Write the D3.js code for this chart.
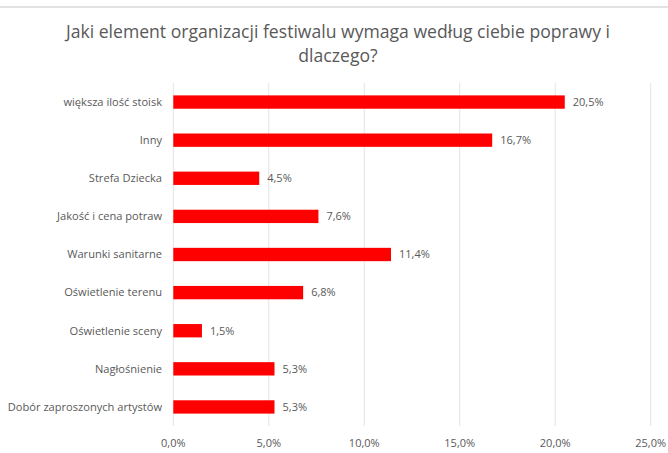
<!DOCTYPE html>
<html>
<head>
<meta charset="utf-8">
<script src="https://cdn.jsdelivr.net/npm/d3@7"></script>
<style>
    body { margin: 0; background: #fff; }
    svg text { font-family: 'Open Sans', 'DejaVu Sans', sans-serif; fill: #595959; }
</style>
</head>
<body>
<svg id="chart" width="668" height="453"></svg>
<script>
const categories = [
    'większa ilość stoisk',
    'Inny',
    'Strefa Dziecka',
    'Jakość i cena potraw',
    'Warunki sanitarne',
    'Oświetlenie terenu',
    'Oświetlenie sceny',
    'Nagłośnienie',
    'Dobór zaproszonych artystów'
]
const values = [20.5, 16.7, 4.5, 7.6, 11.4, 6.8, 1.5, 5.3, 5.3]
const xTicks = [0, 5, 10, 15, 20, 25]
const titleLines = ['Jaki element organizacji festiwalu wymaga według ciebie poprawy i', 'dlaczego?']

const svg = d3.select('#chart')
const fmt = v => v.toFixed(1).replace('.', ',') + '%'

// light frame line at top of the screenshot
svg.append('line')
    .attr('x1', 0).attr('x2', 668)
    .attr('y1', 7).attr('y2', 7)
    .attr('stroke', '#d9d9d9').attr('stroke-width', 1.5)

svg.append('g').selectAll('text')
    .data(titleLines)
    .join('text')
    .attr('x', 338)
    .attr('y', (d, i) => 38 + i * 24)
    .attr('text-anchor', 'middle')
    .style('font-size', '17.6px')
    .text(d => d)

const x = d3.scaleLinear().domain([0, 25]).range([173.3, 650.7])
const y = d3.scaleBand().domain(categories).range([83, 426]).paddingInner(0.65).paddingOuter(0.325)

// gridlines
svg.append('g').selectAll('line')
    .data(xTicks)
    .join('line')
    .attr('x1', d => x(d)).attr('x2', d => x(d))
    .attr('y1', 83).attr('y2', 426)
    .attr('stroke', '#e3e3e3').attr('stroke-width', 1)

// tick labels
svg.append('g').selectAll('text')
    .data(xTicks)
    .join('text')
    .attr('x', d => x(d))
    .attr('y', 447)
    .attr('text-anchor', 'middle')
    .style('font-size', '11px')
    .text(d => fmt(d))

// category labels
svg.append('g').selectAll('text')
    .data(categories)
    .join('text')
    .attr('x', 162)
    .attr('y', d => y(d) + y.bandwidth() / 2)
    .attr('dy', '0.35em')
    .attr('text-anchor', 'end')
    .style('font-size', '11.1px')
    .text(d => d)

// bars
svg.append('g').selectAll('rect')
    .data(values)
    .join('rect')
    .attr('x', x(0))
    .attr('y', (d, i) => y(categories[i]))
    .attr('width', d => x(d) - x(0))
    .attr('height', y.bandwidth())
    .attr('fill', '#ff0000')

// value labels
svg.append('g').selectAll('text')
    .data(values)
    .join('text')
    .attr('x', d => x(d) + 8)
    .attr('y', (d, i) => y(categories[i]) + y.bandwidth() / 2)
    .attr('dy', '0.35em')
    .style('font-size', '11px')
    .text(d => fmt(d))
</script>
</body>
</html>
